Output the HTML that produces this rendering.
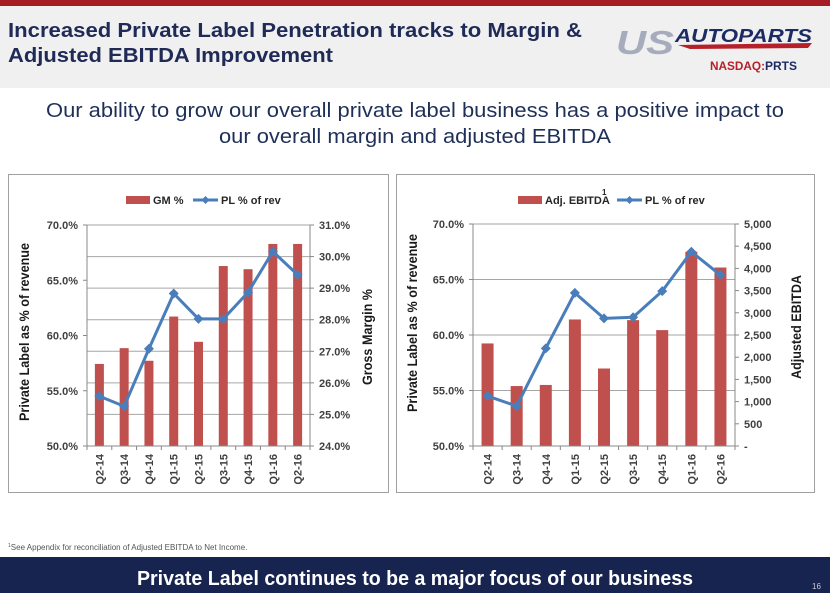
<!DOCTYPE html>
<html><head><meta charset="utf-8">
<style>
html,body{margin:0;padding:0;width:830px;height:593px;overflow:hidden;background:#fff;}
svg{display:block;font-family:"Liberation Sans",sans-serif;}
</style></head>
<body>
<svg id="root" width="830" height="593" viewBox="0 0 830 593">
  <rect x="0" y="0" width="830" height="88" fill="#f0f0f0"/>
  <rect x="0" y="0" width="830" height="6" fill="#a51c24"/>
  <text x="8" y="37" font-size="20" font-weight="bold" fill="#1f2a56" textLength="574" lengthAdjust="spacingAndGlyphs">Increased Private Label Penetration tracks to Margin &amp;</text>
  <text x="8" y="62" font-size="20" font-weight="bold" fill="#1f2a56" textLength="325" lengthAdjust="spacingAndGlyphs">Adjusted EBITDA Improvement</text>
  <g>
    <text x="616" y="54" font-size="33" font-weight="bold" font-style="italic" fill="#a7acbd" textLength="58" lengthAdjust="spacingAndGlyphs">US</text>
    <path d="M678 45 L812 43 L808 48 L690 49 Z" fill="#b5202a"/>
    <text x="675" y="42" font-size="18" font-weight="bold" font-style="italic" fill="#1c2b63" textLength="137" lengthAdjust="spacingAndGlyphs">AUTOPARTS</text>
    <text x="710" y="70" font-size="12" font-weight="bold" fill="#b5202a" textLength="55" lengthAdjust="spacingAndGlyphs">NASDAQ:</text>
    <text x="765" y="70" font-size="12" font-weight="bold" fill="#1c2b63" textLength="32" lengthAdjust="spacingAndGlyphs">PRTS</text>
  </g>
  <text x="415" y="117" font-size="20" fill="#1f3058" text-anchor="middle" textLength="738" lengthAdjust="spacingAndGlyphs">Our ability to grow our overall private label business has a positive impact to</text>
  <text x="415" y="143" font-size="20" fill="#1f3058" text-anchor="middle" textLength="392" lengthAdjust="spacingAndGlyphs">our overall margin and adjusted EBITDA</text>

  <rect x="8.5" y="174.5" width="380" height="318" fill="#fff" stroke="#a0a0a0"/>
  <rect x="396.5" y="174.5" width="418" height="318" fill="#fff" stroke="#a0a0a0"/>
  <g id="c1"></g>
  <g id="c2"></g>

  <text x="8" y="550" font-size="8" fill="#555"><tspan font-size="5" dy="-3">1</tspan><tspan dy="3">See Appendix for reconciliation of Adjusted EBITDA to Net Income.</tspan></text>
  <rect x="0" y="557" width="830" height="36" fill="#17244f"/>
  <text x="415" y="585" font-size="20" font-weight="bold" fill="#fff" text-anchor="middle" textLength="556" lengthAdjust="spacingAndGlyphs">Private Label continues to be a major focus of our business</text>
  <text x="812" y="589" font-size="8" fill="#ccc">16</text>
</svg>
<script>
const categories = ["Q2-14","Q3-14","Q4-14","Q1-15","Q2-15","Q3-15","Q4-15","Q1-16","Q2-16"];
const gmValues = [26.6, 27.1, 26.7, 28.1, 27.3, 29.7, 29.6, 30.4, 30.4];
const plValuesA = [54.5, 53.6, 58.8, 63.8, 61.5, 61.5, 63.9, 67.6, 65.5];
const ebitdaValues = [2310, 1350, 1375, 2850, 1745, 2835, 2610, 4375, 4020];
const plValuesB = [54.5, 53.6, 58.8, 63.8, 61.5, 61.6, 63.95, 67.5, 65.4];
const leftTicks = [50, 55, 60, 65, 70];
const gmTicks = [24, 25, 26, 27, 28, 29, 30, 31];
const ebitdaTicks = [0, 500, 1000, 1500, 2000, 2500, 3000, 3500, 4000, 4500, 5000];

const NS = "http://www.w3.org/2000/svg";
function mk(parent, tag, attrs, text) {
  const e = document.createElementNS(NS, tag);
  for (const k in attrs) e.setAttribute(k, attrs[k]);
  if (text !== undefined) e.textContent = text;
  parent.appendChild(e);
  return e;
}
function fmtPct(v){ return v.toFixed(1) + "%"; }
function fmtNum(v){ return v === 0 ? "-" : v.toLocaleString("en-US"); }

function drawChart(g, cfg) {
  const {x0, x1, y0, y1, barVals, lineVals, rMin, rMax, rTicks, rFmt, barW, gridRight} = cfg;
  const step = (x1 - x0) / categories.length;
  const xC = i => x0 + step * (i + 0.5);
  const yL = v => y1 - (v - 50) / 20 * (y1 - y0);
  const yR = v => y1 - (v - rMin) / (rMax - rMin) * (y1 - y0);
  const font = "Liberation Sans";
  // gridlines
  const gridVals = gridRight ? rTicks : leftTicks;
  gridVals.forEach(v => {
    const y = gridRight ? yR(v) : yL(v);
    if (Math.abs(y - y1) < 1) return;
    const l = mk(g, "line", {x1: x0, x2: x1, y1: y, y2: y, stroke: "#a6a6a6", "stroke-width": 1});
    
    
  });
  // bars
  barVals.forEach((v, i) => {
    const y = yR(v);
    const b = mk(g, "rect", {x: xC(i) - barW / 2, y: y, width: barW, height: y1 - y, fill: "#c0504d"});
    
    
  });
  // axes
  const ax = mk(g, "path", {d: `M${x0} ${y0}V${y1}H${x1}V${y0}`, fill: "none", stroke: "#888", "stroke-width": 1});
  
  
  leftTicks.forEach(v => {
    const y = yL(v);
    mk(g, "line", {x1: x0 - 4, x2: x0, y1: y, y2: y, stroke: "#888"});
    const t = mk(g, "text", {x: x0 - 9, y: y + 4, "font-size": 11, "font-weight": "bold", fill: "#404040", "text-anchor": "end"}, fmtPct(v));
    
    
  });
  rTicks.forEach(v => {
    const y = yR(v);
    mk(g, "line", {x1: x1, x2: x1 + 4, y1: y, y2: y, stroke: "#888"});
    const t = mk(g, "text", {x: x1 + 9, y: y + 4, "font-size": 11, "font-weight": "bold", fill: "#404040"}, rFmt(v));
    
    
  });
  categories.forEach((c, i) => {
    mk(g, "line", {x1: x0 + step * i, x2: x0 + step * i, y1: y1, y2: y1 + 4, stroke: "#888"});
    const t = mk(g, "text", {x: 0, y: 0, "font-size": 11, "font-weight": "bold", fill: "#404040", "text-anchor": "end",
      transform: `translate(${xC(i) + 4},${y1 + 8}) rotate(-90)`}, c);
    
    
  });
  mk(g, "line", {x1: x1, x2: x1, y1: y1, y2: y1 + 4, stroke: "#888"});
  // line
  const pts = lineVals.map((v, i) => `${xC(i)},${yL(v)}`).join(" ");
  const pl = mk(g, "polyline", {points: pts, fill: "none", stroke: "#4a7ebb", "stroke-width": 3, "stroke-linejoin": "round"});
  
  
  lineVals.forEach((v, i) => {
    const x = xC(i), y = yL(v);
    const m = mk(g, "path", {d: `M${x} ${y - 5}L${x + 5} ${y}L${x} ${y + 5}L${x - 5} ${y}Z`, fill: "#4a7ebb"});
    
    
  });
}

const c1 = document.getElementById("c1");
drawChart(c1, {x0: 87, x1: 310, y0: 225, y1: 446, barVals: gmValues, lineVals: plValuesA, rMin: 24, rMax: 31, rTicks: gmTicks, rFmt: fmtPct, barW: 9, gridRight: true});
const c2 = document.getElementById("c2");
drawChart(c2, {x0: 473, x1: 735, y0: 224, y1: 446, barVals: ebitdaValues, lineVals: plValuesB, rMin: 0, rMax: 5000, rTicks: ebitdaTicks, rFmt: fmtNum, barW: 12, gridRight: false});

// titles & legends
function axisTitle(g, x, y, txt, len, name) {
  const t = mk(g, "text", {x: 0, y: 0, "font-size": 14, "font-weight": "bold", fill: "#1a1a1a", "text-anchor": "middle",
    textLength: len, lengthAdjust: "spacingAndGlyphs", transform: `translate(${x},${y}) rotate(-90)`}, txt);
  
  
}
axisTitle(c1, 29, 332, "Private Label as % of revenue", 178, "left-y-axis-title");
axisTitle(c1, 372, 337, "Gross Margin %", 96, "right-y-axis-title");
axisTitle(c2, 417, 323, "Private Label as % of revenue", 178, "left-y-axis-title");
axisTitle(c2, 801, 327, "Adjusted EBITDA", 104, "right-y-axis-title");

function legend(g, bx, label, lx, sup) {
  const r = mk(g, "rect", {x: bx, y: 196, width: 24, height: 8, fill: "#c0504d"});
  
  
  const t = mk(g, "text", {x: bx + 27, y: 204, "font-size": 11, "font-weight": "bold", fill: "#262626"}, label);
  
  
  if (sup) {
    const s = mk(g, "text", {x: sup, y: 195, "font-size": 8, "font-weight": "bold", fill: "#262626"}, "1");
    
    
  }
  mk(g, "line", {x1: lx, x2: lx + 25, y1: 200, y2: 200, stroke: "#4a7ebb", "stroke-width": 3});
  mk(g, "path", {d: `M${lx + 12.5} 196L${lx + 16.5} 200L${lx + 12.5} 204L${lx + 8.5} 200Z`, fill: "#4a7ebb"});
  const t2 = mk(g, "text", {x: lx + 28, y: 204, "font-size": 11, "font-weight": "bold", fill: "#262626"}, "PL % of rev");
  
  
}
legend(c1, 126, "GM %", 193, 0);
legend(c2, 518, "Adj. EBITDA", 617, 602);
</script>
</body></html>
